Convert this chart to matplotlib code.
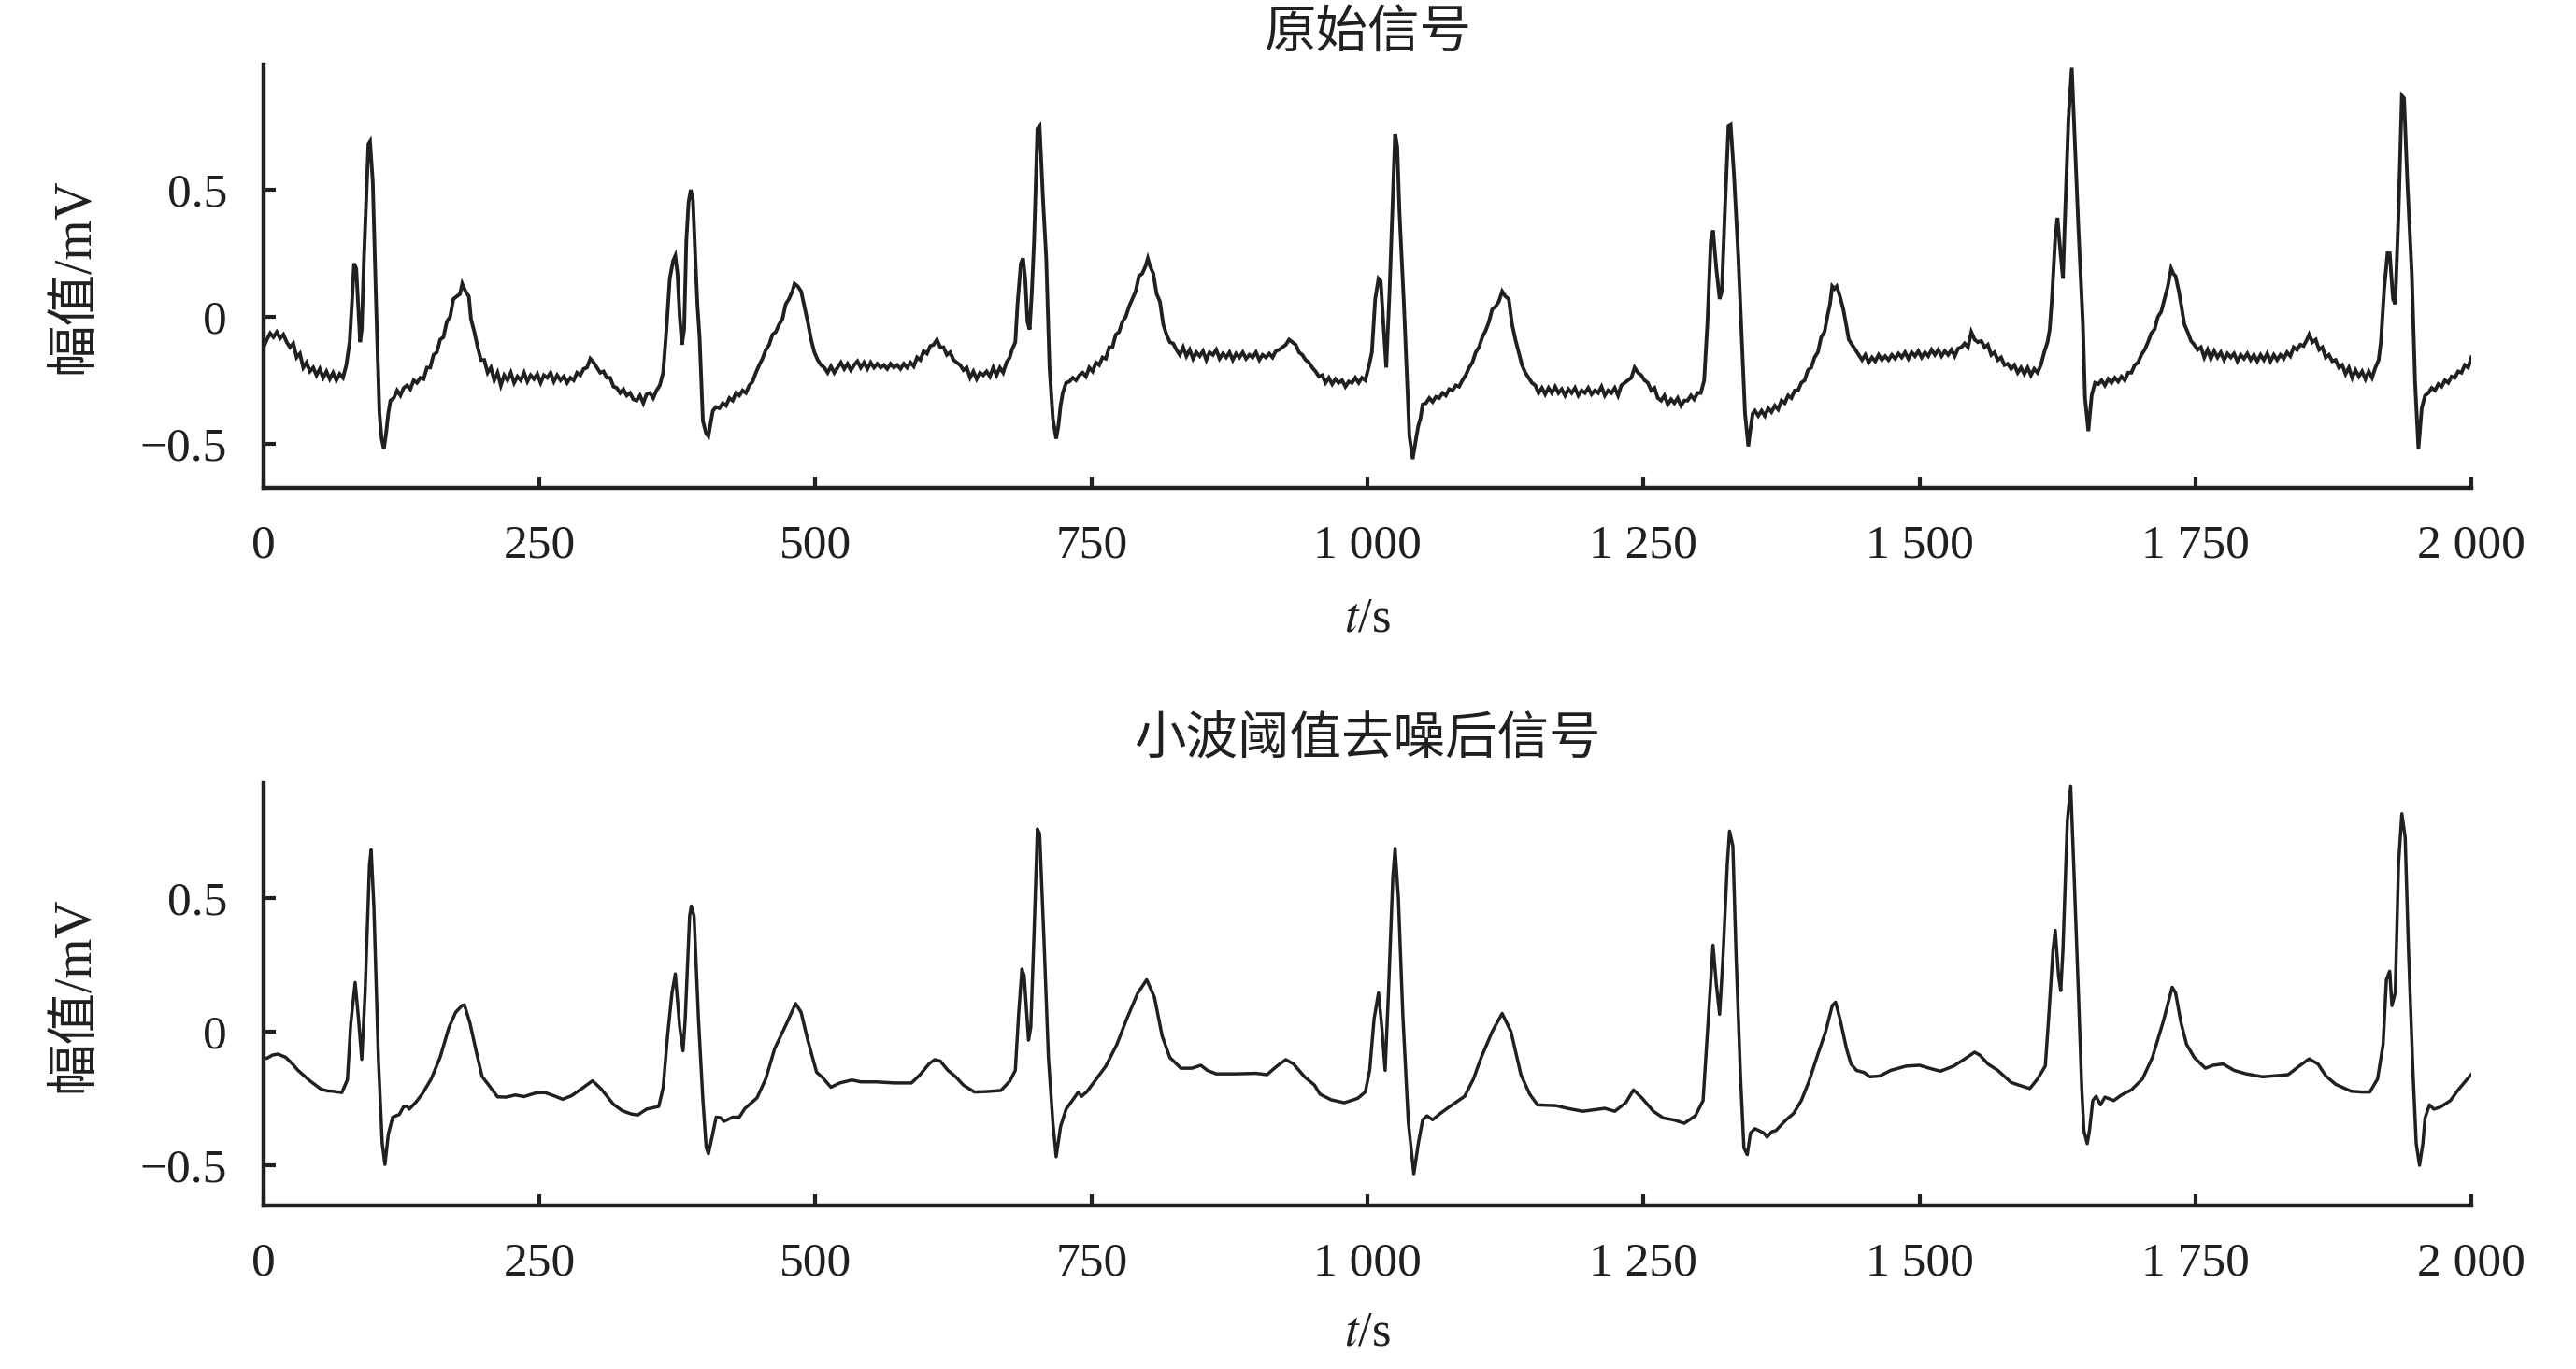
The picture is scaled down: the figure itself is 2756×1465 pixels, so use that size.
import numpy as np
import matplotlib
matplotlib.use("Agg")
import matplotlib.pyplot as plt
from matplotlib.ticker import FuncFormatter

# ---------------- style ----------------
plt.rcParams.update({
    'font.family': ['Liberation Serif', 'Noto Sans CJK SC'],
    'mathtext.fontset': 'stix',
    'axes.unicode_minus': True,
    'xtick.direction': 'in',
    'ytick.direction': 'in',
})

LINE_COLOR = '#231f20'

# ---------------- data ----------------
# original ECG record, (t, amplitude in mV)
raw_points = [
    (0, -0.12), (3, -0.09), (6, -0.065), (9, -0.08), (12, -0.06), (15, -0.085), (18, -0.07),
    (21, -0.10), (24, -0.12), (27, -0.105), (30, -0.16), (33, -0.145), (36, -0.20), (39, -0.18),
    (42, -0.215), (45, -0.20), (48, -0.23), (51, -0.205), (54, -0.24), (57, -0.215), (60, -0.245),
    (63, -0.22), (66, -0.25), (69, -0.225), (72, -0.24), (75, -0.19), (78, -0.10),
    # beat 1
    (80, 0.05), (82, 0.21), (84, 0.19), (86, 0.02), (87.5, -0.10), (89, -0.05), (91, 0.23),
    (93, 0.45), (95, 0.68), (96.5, 0.69), (99, 0.53), (102, 0.05), (105, -0.38), (107, -0.48),
    (109, -0.52), (111, -0.46), (113, -0.38), (115, -0.33), (118, -0.32), (121, -0.29),
    (124, -0.31), (127, -0.28), (130, -0.27), (133, -0.285), (136, -0.25), (139, -0.26),
    (142, -0.24), (145, -0.245), (148, -0.20), (151, -0.20), (154, -0.15), (157, -0.14),
    (160, -0.09), (163, -0.08), (166, -0.02), (169, 0.0), (172, 0.07), (175, 0.08), (178, 0.09),
    (180, 0.13), (183, 0.10), (186, 0.08), (188, -0.01), (191, -0.06), (194, -0.12), (197, -0.17),
    (200, -0.17), (203, -0.22), (206, -0.20), (209, -0.25),
    (212, -0.22), (215, -0.27), (218, -0.23), (221, -0.25), (224, -0.22), (227, -0.26),
    (230, -0.235), (233, -0.25), (236, -0.22), (239, -0.255), (242, -0.23), (245, -0.245),
    (248, -0.225), (251, -0.26), (254, -0.23), (257, -0.24), (260, -0.22), (263, -0.255),
    (266, -0.23), (269, -0.25), (272, -0.235), (275, -0.26), (278, -0.24), (281, -0.25),
    (284, -0.22), (287, -0.23), (290, -0.205), (293, -0.20), (296, -0.165), (299, -0.18),
    (302, -0.20), (305, -0.22), (308, -0.215), (311, -0.24), (314, -0.24), (317, -0.275),
    (320, -0.28), (323, -0.30), (326, -0.285), (329, -0.31), (332, -0.30), (335, -0.325),
    (338, -0.33), (341, -0.31), (344, -0.34), (347, -0.305), (350, -0.30), (353, -0.32),
    (356, -0.29), (359, -0.27),
    # beat 2
    (362, -0.22), (365, -0.05), (368, 0.15), (371, 0.22), (373, 0.24), (375, 0.17), (377, 0.0),
    (379, -0.11), (381, -0.05), (383, 0.30), (385, 0.45), (387, 0.50), (389, 0.46), (391, 0.25),
    (393, 0.05), (395, -0.08), (398, -0.41), (401, -0.46), (403, -0.47), (405, -0.42),
    (407, -0.37), (410, -0.355), (413, -0.36), (416, -0.34), (419, -0.35), (422, -0.32),
    (425, -0.33), (428, -0.30), (431, -0.31), (434, -0.29), (437, -0.30), (440, -0.27),
    (443, -0.255), (446, -0.22), (449, -0.19), (452, -0.165), (455, -0.13), (458, -0.11),
    (461, -0.07), (464, -0.06), (467, -0.03), (470, -0.01), (473, 0.05), (476, 0.07), (479, 0.10),
    (481, 0.13), (484, 0.12), (487, 0.10), (490, 0.04), (493, -0.02), (496, -0.09), (499, -0.14),
    (502, -0.17), (505, -0.19),
    (508, -0.20), (511, -0.22), (514, -0.195), (517, -0.22), (520, -0.20), (523, -0.18),
    (526, -0.205), (529, -0.185), (532, -0.21), (535, -0.19), (538, -0.175), (541, -0.20),
    (544, -0.18), (547, -0.205), (550, -0.18), (553, -0.20), (556, -0.185), (559, -0.20),
    (562, -0.19), (565, -0.205), (568, -0.185), (571, -0.20), (574, -0.19), (577, -0.205),
    (580, -0.185), (583, -0.20), (586, -0.18), (589, -0.195), (592, -0.16), (595, -0.17),
    (598, -0.135), (601, -0.145), (604, -0.115), (607, -0.11), (610, -0.09), (613, -0.12),
    (616, -0.12), (619, -0.15), (622, -0.14), (625, -0.17), (628, -0.18), (631, -0.19),
    (634, -0.21), (637, -0.20), (640, -0.24), (643, -0.215), (646, -0.245), (649, -0.22),
    (652, -0.23), (655, -0.215), (658, -0.235), (661, -0.20), (664, -0.23), (667, -0.20),
    (670, -0.22), (673, -0.18), (676, -0.16), (678, -0.13), (681, -0.10),
    # beat 3
    (683, 0.05), (686, 0.21), (688, 0.23), (690, 0.15), (692, -0.02), (694, -0.05), (696, 0.10),
    (698, 0.30), (701, 0.74), (703, 0.75), (706, 0.47), (709, 0.23), (712, -0.20), (715, -0.40),
    (718, -0.48), (720, -0.43), (722, -0.35), (724, -0.30), (727, -0.26), (730, -0.255),
    (733, -0.24), (736, -0.25), (739, -0.23), (742, -0.22), (745, -0.235), (748, -0.20),
    (751, -0.215), (754, -0.18), (757, -0.19), (760, -0.16), (763, -0.165), (766, -0.12),
    (769, -0.12), (772, -0.07), (775, -0.06), (778, -0.02), (781, 0.0), (784, 0.04), (787, 0.07),
    (790, 0.10), (793, 0.16), (796, 0.17), (799, 0.20), (801, 0.23), (803, 0.20), (806, 0.17),
    (809, 0.09), (812, 0.06), (815, -0.03), (818, -0.07), (821, -0.10), (824, -0.105),
    (827, -0.13), (830, -0.15), (833, -0.12), (836, -0.155), (839, -0.13), (842, -0.165),
    (845, -0.14), (848, -0.155), (851, -0.135), (854, -0.17), (857, -0.14), (860, -0.15),
    (863, -0.13), (866, -0.165), (869, -0.145), (872, -0.16), (875, -0.14), (878, -0.17),
    (881, -0.145), (884, -0.16), (887, -0.14), (890, -0.165), (893, -0.15), (896, -0.16),
    (899, -0.14), (902, -0.17), (905, -0.15), (908, -0.16), (911, -0.145), (914, -0.16),
    (917, -0.135), (920, -0.13), (923, -0.12), (926, -0.11), (929, -0.09), (932, -0.10),
    (935, -0.11), (938, -0.14), (941, -0.15), (944, -0.17), (947, -0.18), (950, -0.20),
    (953, -0.215), (956, -0.235), (959, -0.23), (962, -0.26), (965, -0.24), (968, -0.265),
    (971, -0.245), (974, -0.26), (977, -0.25), (980, -0.275), (983, -0.255), (986, -0.26),
    (989, -0.24), (992, -0.26), (995, -0.24), (998, -0.25), (1001, -0.20), (1004, -0.14),
    # beat 4
    (1007, 0.07), (1010, 0.15), (1012, 0.14), (1014, 0.0), (1017, -0.20), (1020, 0.10),
    (1023, 0.47), (1025, 0.72), (1027, 0.67), (1029, 0.41), (1033, 0.05), (1036, -0.26),
    (1038, -0.47), (1041, -0.56), (1044, -0.48), (1046, -0.43), (1048, -0.40), (1050, -0.345),
    (1053, -0.34), (1056, -0.32), (1059, -0.335), (1062, -0.315), (1065, -0.32), (1068, -0.30),
    (1071, -0.31), (1074, -0.285), (1077, -0.29), (1080, -0.27), (1083, -0.275), (1086, -0.25),
    (1089, -0.23), (1092, -0.20), (1095, -0.18), (1098, -0.14), (1101, -0.12), (1104, -0.08),
    (1107, -0.055), (1110, -0.02), (1113, 0.03), (1116, 0.04), (1119, 0.06), (1122, 0.10),
    (1125, 0.08), (1128, 0.07), (1131, -0.03), (1134, -0.09), (1137, -0.14), (1140, -0.19),
    (1143, -0.22), (1146, -0.24), (1149, -0.26),
    (1152, -0.27), (1155, -0.30), (1158, -0.28), (1161, -0.305), (1164, -0.28), (1167, -0.30),
    (1170, -0.275), (1173, -0.30), (1176, -0.285), (1179, -0.31), (1182, -0.285), (1185, -0.30),
    (1188, -0.28), (1191, -0.31), (1194, -0.29), (1197, -0.30), (1200, -0.28), (1203, -0.305),
    (1206, -0.29), (1209, -0.30), (1212, -0.275), (1215, -0.31), (1218, -0.29), (1221, -0.30),
    (1224, -0.28), (1227, -0.31), (1230, -0.27), (1233, -0.26), (1236, -0.25), (1239, -0.24),
    (1242, -0.20), (1245, -0.22), (1248, -0.23), (1251, -0.25), (1254, -0.26), (1257, -0.29),
    (1260, -0.28), (1263, -0.32), (1266, -0.33), (1269, -0.31), (1272, -0.345), (1275, -0.325),
    (1278, -0.34), (1281, -0.32), (1284, -0.35), (1287, -0.33), (1290, -0.33), (1293, -0.31),
    (1296, -0.325), (1299, -0.30), (1302, -0.30), (1305, -0.25),
    # beat 5
    (1308, -0.02), (1311, 0.30), (1313, 0.34), (1316, 0.19), (1319, 0.07), (1321, 0.10),
    (1324, 0.44), (1327, 0.75), (1329, 0.755), (1332, 0.56), (1336, 0.23), (1339, -0.08),
    (1342, -0.38), (1345, -0.51), (1347, -0.44), (1349, -0.38), (1351, -0.37), (1354, -0.39),
    (1357, -0.37), (1360, -0.39), (1363, -0.36), (1366, -0.375), (1369, -0.35), (1372, -0.365),
    (1375, -0.33), (1378, -0.34), (1381, -0.31), (1384, -0.32), (1387, -0.29), (1390, -0.29),
    (1393, -0.26), (1396, -0.25), (1399, -0.21), (1402, -0.20), (1405, -0.16), (1408, -0.14),
    (1411, -0.08), (1414, -0.06), (1417, 0.01), (1419, 0.05), (1421, 0.12), (1423, 0.11),
    (1425, 0.12), (1428, 0.08), (1431, 0.03), (1434, -0.04), (1436, -0.09), (1439, -0.11),
    (1442, -0.13), (1445, -0.15),
    (1448, -0.17), (1451, -0.15), (1454, -0.18), (1457, -0.16), (1460, -0.175), (1463, -0.15),
    (1466, -0.17), (1469, -0.155), (1472, -0.17), (1475, -0.15), (1478, -0.165), (1481, -0.145),
    (1484, -0.16), (1487, -0.14), (1490, -0.165), (1493, -0.14), (1496, -0.155), (1499, -0.135),
    (1502, -0.16), (1505, -0.14), (1508, -0.155), (1511, -0.13), (1514, -0.15), (1517, -0.13),
    (1520, -0.155), (1523, -0.135), (1526, -0.15), (1529, -0.13), (1532, -0.155), (1535, -0.125),
    (1538, -0.12), (1541, -0.105), (1544, -0.12), (1547, -0.06), (1550, -0.09), (1553, -0.10),
    (1556, -0.095), (1559, -0.12), (1562, -0.11), (1565, -0.15), (1568, -0.14), (1571, -0.17),
    (1574, -0.16), (1577, -0.19), (1580, -0.185), (1583, -0.205), (1586, -0.19), (1589, -0.22),
    (1592, -0.20), (1595, -0.225), (1598, -0.20), (1601, -0.23), (1604, -0.205), (1607, -0.22),
    (1610, -0.19), (1613, -0.14), (1616, -0.10),
    # beat 6
    (1618, -0.05), (1620, 0.07), (1623, 0.31), (1625, 0.39), (1627, 0.29), (1630, 0.15),
    (1632, 0.41), (1635, 0.78), (1638, 0.98), (1641, 0.66), (1644, 0.35), (1648, -0.02),
    (1650, -0.32), (1653, -0.45), (1656, -0.31), (1659, -0.26), (1662, -0.265), (1665, -0.25),
    (1668, -0.27), (1671, -0.245), (1674, -0.26), (1677, -0.24), (1680, -0.255), (1683, -0.235),
    (1686, -0.25), (1689, -0.22), (1692, -0.22), (1695, -0.19), (1698, -0.18), (1701, -0.15),
    (1704, -0.13), (1707, -0.10), (1710, -0.065), (1713, -0.05), (1716, 0.0), (1719, 0.02),
    (1722, 0.07), (1725, 0.12), (1728, 0.19), (1730, 0.17), (1732, 0.16), (1735, 0.10),
    (1737, 0.05), (1740, -0.03), (1743, -0.06), (1746, -0.095), (1749, -0.11), (1752, -0.13),
    (1755, -0.12), (1758, -0.16), (1761, -0.13), (1764, -0.165), (1767, -0.135), (1770, -0.16),
    (1773, -0.14), (1776, -0.17), (1779, -0.145), (1782, -0.16), (1785, -0.145), (1788, -0.175),
    (1791, -0.15), (1794, -0.165), (1797, -0.145), (1800, -0.17), (1803, -0.15), (1806, -0.175),
    (1809, -0.15), (1812, -0.17), (1815, -0.145), (1818, -0.175), (1821, -0.15), (1824, -0.17),
    (1827, -0.15), (1830, -0.165), (1833, -0.14), (1836, -0.155), (1839, -0.12), (1842, -0.13),
    (1845, -0.11), (1848, -0.115), (1851, -0.09), (1853, -0.07), (1856, -0.10), (1859, -0.09),
    (1862, -0.13), (1865, -0.12), (1868, -0.16), (1871, -0.15), (1874, -0.175), (1877, -0.17),
    (1880, -0.20), (1883, -0.19), (1886, -0.225), (1889, -0.20), (1892, -0.24), (1895, -0.21),
    (1898, -0.235), (1901, -0.215), (1904, -0.245), (1907, -0.215), (1910, -0.24), (1913, -0.20),
    (1916, -0.17),
    # beat 7
    (1918, -0.10), (1921, 0.11), (1924, 0.25), (1926, 0.25), (1929, 0.07), (1931, 0.05),
    (1934, 0.41), (1937, 0.87), (1939, 0.86), (1942, 0.53), (1946, 0.17), (1949, -0.26),
    (1952, -0.52), (1955, -0.36), (1958, -0.31), (1961, -0.30), (1964, -0.28), (1967, -0.29),
    (1970, -0.265), (1973, -0.275), (1976, -0.25), (1979, -0.26), (1982, -0.235), (1985, -0.24),
    (1988, -0.215), (1991, -0.22), (1994, -0.19), (1997, -0.20), (2000, -0.16),
]

# signal after wavelet threshold denoising, (t, amplitude in mV)
denoised_points = [
    (0, -0.10), (3, -0.10), (8, -0.088), (13, -0.084), (20, -0.096), (26, -0.12), (31, -0.144),
    (42, -0.184), (52, -0.215), (58, -0.222), (63, -0.223), (71, -0.228), (76, -0.18), (79, 0.03),
    (83, 0.184), (86, 0.05), (89, -0.104), (92, 0.144), (96, 0.625), (97.5, 0.68), (100, 0.465),
    (104, -0.096), (107.5, -0.417), (110, -0.497), (113, -0.385), (117, -0.32), (123, -0.31),
    (127, -0.28), (130, -0.28), (132, -0.29), (138, -0.264), (144, -0.232), (152, -0.176),
    (160, -0.096), (168, 0.016), (174, 0.072), (180, 0.098), (182, 0.10), (187, 0.032),
    (193, -0.08), (198, -0.168), (204, -0.20), (212, -0.244), (220, -0.245), (228, -0.237),
    (236, -0.243), (247, -0.229), (255, -0.228), (263, -0.24), (271, -0.253), (279, -0.24),
    (290, -0.208), (298, -0.184), (306, -0.215), (317, -0.272), (325, -0.296), (333, -0.308),
    (339, -0.312), (347, -0.29), (358, -0.28), (362, -0.21), (366, -0.016), (370, 0.144),
    (373, 0.216), (377, 0.016), (380, -0.072), (382, 0.048), (386, 0.433), (387.5, 0.47),
    (390, 0.433), (394, 0.048), (398, -0.256), (401, -0.433), (403, -0.457), (406, -0.40),
    (410, -0.32), (414, -0.322), (417, -0.336), (425, -0.32), (431, -0.32), (436, -0.288),
    (447, -0.248), (455, -0.176), (463, -0.064), (474, 0.032), (482, 0.105), (487, 0.072),
    (493, -0.032), (501, -0.152), (506, -0.17), (514, -0.208), (522, -0.192), (533, -0.181),
    (541, -0.188), (555, -0.188), (571, -0.192), (587, -0.192), (595, -0.16), (603, -0.12),
    (608, -0.105), (613, -0.11), (620, -0.145), (627, -0.169), (634, -0.20), (644, -0.226),
    (656, -0.224), (668, -0.22), (676, -0.185), (681, -0.145), (684, 0.065), (687, 0.234),
    (689, 0.21), (693, -0.032), (695, 0.016), (698, 0.37), (701, 0.758), (703, 0.74),
    (707, 0.339), (711, -0.097), (715, -0.339), (718, -0.468), (722, -0.355), (727, -0.29),
    (734, -0.25), (738, -0.226), (741, -0.242), (746, -0.224), (753, -0.185), (763, -0.129),
    (773, -0.048), (782, 0.048), (792, 0.145), (800, 0.194), (807, 0.129), (814, -0.016),
    (821, -0.097), (831, -0.137), (841, -0.137), (849, -0.126), (855, -0.145), (863, -0.158),
    (880, -0.158), (899, -0.156), (909, -0.161), (918, -0.129), (926, -0.105), (933, -0.121),
    (943, -0.169), (952, -0.20), (957, -0.234), (967, -0.255), (979, -0.266), (991, -0.25),
    (998, -0.226), (1002, -0.145), (1006, 0.048), (1010, 0.145), (1013, 0.016), (1016, -0.145),
    (1019, 0.145), (1023, 0.58), (1025, 0.685), (1028, 0.50), (1032, 0.065), (1037, -0.339),
    (1042, -0.532), (1046, -0.42), (1050, -0.33), (1054, -0.315), (1059, -0.33), (1066, -0.306),
    (1074, -0.282), (1088, -0.242), (1096, -0.177), (1103, -0.097), (1113, 0.0), (1122, 0.068),
    (1130, 0.0), (1139, -0.161), (1147, -0.234), (1154, -0.274), (1171, -0.277), (1181, -0.287),
    (1195, -0.298), (1215, -0.287), (1224, -0.298), (1234, -0.266), (1241, -0.218),
    (1249, -0.25), (1259, -0.298), (1268, -0.323), (1278, -0.331), (1287, -0.343),
    (1297, -0.315), (1304, -0.258), (1309, 0.065), (1313, 0.323), (1316, 0.177), (1319, 0.065),
    (1322, 0.274), (1326, 0.629), (1328, 0.75), (1331, 0.694), (1334, 0.274), (1338, -0.177),
    (1341, -0.435), (1344, -0.46), (1347, -0.379), (1351, -0.363), (1355, -0.371),
    (1359, -0.379), (1362, -0.395), (1366, -0.375), (1370, -0.37), (1379, -0.331),
    (1386, -0.306), (1393, -0.258), (1400, -0.185), (1407, -0.097), (1415, 0.0), (1421, 0.097),
    (1424, 0.11), (1428, 0.048), (1434, -0.065), (1438, -0.121), (1443, -0.145), (1450, -0.153),
    (1455, -0.169), (1464, -0.166), (1474, -0.145), (1488, -0.129), (1500, -0.126),
    (1509, -0.137), (1519, -0.148), (1531, -0.129), (1540, -0.105), (1550, -0.077),
    (1555, -0.089), (1562, -0.121), (1571, -0.145), (1583, -0.19), (1590, -0.20), (1600, -0.213),
    (1607, -0.177), (1614, -0.129), (1617, 0.048), (1621, 0.306), (1623, 0.379), (1626, 0.21),
    (1628, 0.153), (1630, 0.306), (1634, 0.79), (1637, 0.918), (1640, 0.597), (1644, 0.145),
    (1647, -0.21), (1649, -0.371), (1652, -0.419), (1654, -0.371), (1657, -0.258),
    (1660, -0.242), (1664, -0.274), (1668, -0.245), (1676, -0.258), (1683, -0.237),
    (1692, -0.218), (1702, -0.177), (1711, -0.097), (1721, 0.04), (1729, 0.166), (1732, 0.145),
    (1737, 0.032), (1742, -0.048), (1749, -0.097), (1759, -0.137), (1766, -0.126),
    (1775, -0.121), (1785, -0.145), (1796, -0.158), (1811, -0.169), (1834, -0.161),
    (1844, -0.129), (1853, -0.102), (1861, -0.121), (1868, -0.165), (1877, -0.197),
    (1891, -0.223), (1901, -0.226), (1908, -0.226), (1915, -0.177), (1920, -0.048),
    (1923, 0.194), (1926, 0.226), (1928, 0.097), (1931, 0.145), (1934, 0.629), (1937, 0.815),
    (1940, 0.726), (1943, 0.306), (1947, -0.145), (1950, -0.419), (1953, -0.50), (1956, -0.419),
    (1958, -0.323), (1962, -0.274), (1966, -0.29), (1972, -0.282), (1981, -0.258),
    (1988, -0.218), (1998, -0.169), (2000, -0.16),
]

x_ticks = [0, 250, 500, 750, 1000, 1250, 1500, 1750, 2000]
y_ticks = [-0.5, 0, 0.5]
titles = ['原始信号', '小波阈值去噪后信号']
y_label = '幅值/mV'
x_label = r'$t$/s'


def thousands(x, pos):
    return f"{int(round(x)):,}".replace(',', ' ')


def yfmt(y, pos):
    if abs(y) < 1e-9:
        return '0'
    return f"{y:.1f}".replace('-', '\u2212')


def style_axis(ax, ylim):
    ax.set_xlim(0, 2000)
    ax.set_ylim(*ylim)
    ax.set_xticks(x_ticks)
    ax.set_yticks(y_ticks)
    ax.xaxis.set_major_formatter(FuncFormatter(thousands))
    ax.yaxis.set_major_formatter(FuncFormatter(yfmt))
    for side in ('top', 'right'):
        ax.spines[side].set_visible(False)
    for side in ('left', 'bottom'):
        ax.spines[side].set_linewidth(3.2)
        ax.spines[side].set_color(LINE_COLOR)
    ax.tick_params(axis='both', which='major', length=9, width=3.0, color=LINE_COLOR,
                   labelsize=37, labelcolor=LINE_COLOR)
    ax.tick_params(axis='x', pad=28)
    ax.tick_params(axis='y', pad=28)


fig = plt.figure(figsize=(27.56, 14.65), dpi=100)

t_raw, v_raw = np.array(raw_points).T
t_den, v_den = np.array(denoised_points).T

ax1 = fig.add_axes([0.1023, 0.6437, 0.8571, 0.3092])
ax1.plot(t_raw, v_raw, color=LINE_COLOR, lw=2.8, solid_joinstyle='miter')
style_axis(ax1, (-0.673, 0.993))

ax2 = fig.add_axes([0.1023, 0.1195, 0.8571, 0.3082])
ax2.plot(t_den, v_den, color=LINE_COLOR, lw=2.5)
style_axis(ax2, (-0.65, 0.928))

cx = 0.1023 + 0.8571 / 2
fig.text(cx, 0.975, titles[0], ha='center', va='center', fontsize=40, color=LINE_COLOR)
fig.text(cx, 0.459, titles[1], ha='center', va='center', fontsize=40, color=LINE_COLOR)

fig.text(cx, 0.548, x_label, ha='center', va='center', fontsize=38, color=LINE_COLOR)
fig.text(cx, 0.026, x_label, ha='center', va='center', fontsize=38, color=LINE_COLOR)

fig.text(0.029, 0.6437 + 0.3092 / 2, y_label, rotation=90, ha='center', va='center',
         fontsize=40, color=LINE_COLOR)
fig.text(0.029, 0.1195 + 0.3082 / 2, y_label, rotation=90, ha='center', va='center',
         fontsize=40, color=LINE_COLOR)

fig.savefig('out.png', dpi=100)
